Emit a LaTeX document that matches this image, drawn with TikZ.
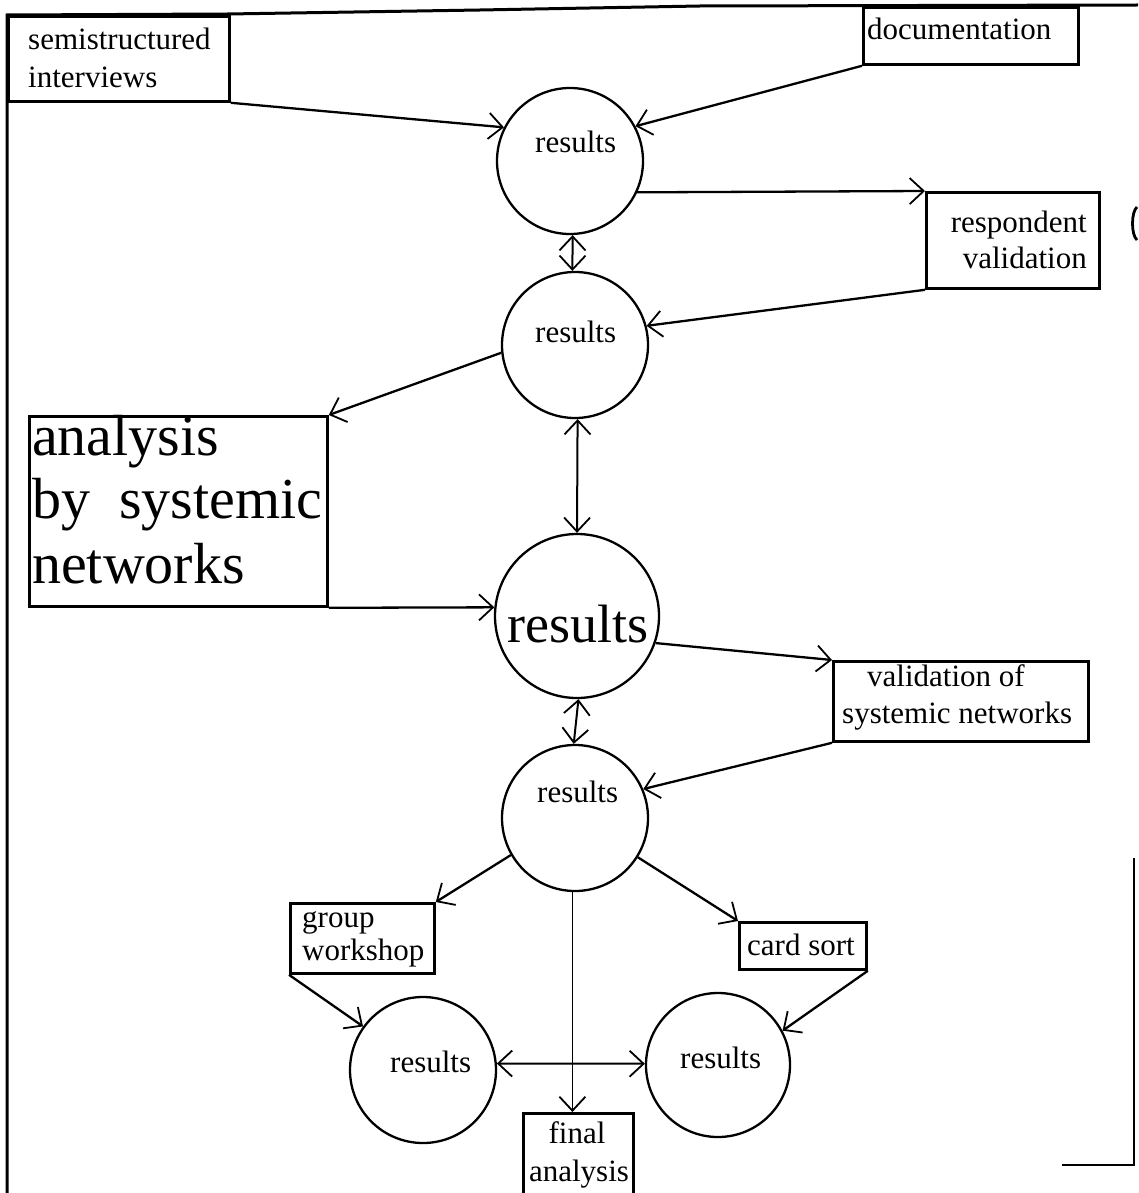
\documentclass[tikz,border=0pt]{standalone}
\usepackage{fontspec}
\setmainfont{Liberation Serif}
\usetikzlibrary{arrows.meta}
\begin{document}
\begin{tikzpicture}[x=1pt,y=-1pt,
  box/.style={draw, rectangle, line width=2.8pt, inner sep=0pt, anchor=north west},
  bubble/.style={draw, circle, line width=2.3pt, inner sep=0pt},
  lbl/.style={font=\fontsize{31}{37}\selectfont, inner sep=0pt},
  biglbl/.style={font=\fontsize{58}{64}\selectfont, inner sep=0pt},
  barb/.tip={Straight Barb[length=14pt,width=26pt,line width=1.8pt]},
  link/.style={line width=2.3pt, -barb},
  twoway/.style={line width=2pt, barb-barb},
]
\useasboundingbox (0,0) rectangle (1138,1193);

% outer frame
\draw[line width=3pt] (7,1193) -- (7,15) -- (228,14) -- (480,10) -- (700,6) -- (1138,5);
\draw[line width=2.4pt] (1134,858) -- (1134,1165) -- (1062,1165);
\draw[line width=2.8pt] (1137,207) .. controls (1131,212) and (1131,235) .. (1137,240);

% boxes
\node[box, minimum width=221pt, minimum height=85pt] (semi) at (7,15) {};
\node[box, minimum width=215pt, minimum height=57pt] (doc) at (862,6) {};
\node[box, minimum width=173pt, minimum height=96pt] (resp) at (925,191) {};
\node[box, minimum width=298pt, minimum height=190pt] (ana) at (28,415) {};
\node[box, minimum width=255pt, minimum height=80pt] (valid) at (832,660) {};
\node[box, minimum width=144pt, minimum height=70pt] (group) at (289,902) {};
\node[box, minimum width=127pt, minimum height=47pt] (card) at (738,921) {};
\node[box, minimum width=110pt, minimum height=95pt] (final) at (522,1112) {};

% box texts
\node[lbl, anchor=base west] (semi-a) at (28,50) {semistructured};
\node[lbl, anchor=base west] (semi-b) at (28,88) {interviews};
\node[lbl, anchor=base west] (doc-a) at (867,40) {documentation};
\node[lbl, anchor=base east] (resp-a) at (1087,232) {respondent};
\node[lbl, anchor=base east] (resp-b) at (1087,268) {validation};
\node[biglbl, anchor=base west] (ana-a) at (32,455) {analysis};
\node[biglbl, anchor=base west] (ana-b) at (32,518) {by\hspace{0.5em}systemic};
\node[biglbl, anchor=base west] (ana-c) at (32,583) {networks};
\node[lbl, anchor=base west] (valid-a) at (867,686) {validation of};
\node[lbl, anchor=base west] (valid-b) at (842,723) {systemic networks};
\node[lbl, anchor=base west] (group-a) at (302,927) {group};
\node[lbl, anchor=base west] (group-b) at (302,960) {workshop};
\node[lbl, anchor=base west] (card-a) at (747,955) {card sort};
\node[lbl, anchor=base] (final-a) at (577,1143) {final};
\node[lbl, anchor=base] (final-b) at (579,1181) {analysis};

% result circles
\node[bubble, minimum size=146pt] (c1) at (570,161) {};
\node[bubble, minimum size=146pt] (c2) at (575,345) {};
\node[bubble, minimum size=164pt] (c3) at (577,616) {};
\node[bubble, minimum size=146pt] (c4) at (575,818) {};
\node[bubble, minimum size=146pt] (c5) at (423,1070) {};
\node[bubble, minimum size=144pt] (c6) at (718,1065) {};

\node[lbl, anchor=base west] (r1) at (535,153) {results};
\node[lbl, anchor=base west] (r2) at (535,342) {results};
\node[font=\fontsize{54}{60}\selectfont, inner sep=0pt, anchor=base west] (r3) at (507,642) {results};
\node[lbl, anchor=base west] (r4) at (537,802) {results};
\node[lbl, anchor=base west] (r5) at (390,1072) {results};
\node[lbl, anchor=base west] (r6) at (680,1068) {results};

% connectors
\draw[link] (semi.south east) -- (c1.153);
\draw[link] (doc.south west) -- (c1.28);
\draw[link] (c1.-25) -- (resp.north west);
\draw[twoway] (c1.-88) -- (c2.92);
\draw[link] (resp.south west) -- (c2.15);
\draw[link] (c2.186) -- (ana.north east);
\draw[twoway] (c2.-88) -- (c3.90);
\draw[link] (ana.south east) -- (c3.174);
\draw[link] (c3.-19) -- (valid.north west);
\draw[twoway] (c3.-89) -- (c4.91);
\draw[link] (valid.south west) -- (c4.23);
\draw[link] (c4.210) -- (group.north east);
\draw[link] (c4.-32) -- (card.north west);
\draw[link, line width=1.8pt] (c4.-92) -- (final.north -| c4.-92);
\draw[link] (group.south west) -- (c5.144);
\draw[link] (card.south east) -- (c6.28);
\draw[twoway] (c5.5) -- (c6.179);
\end{tikzpicture}
\end{document}
